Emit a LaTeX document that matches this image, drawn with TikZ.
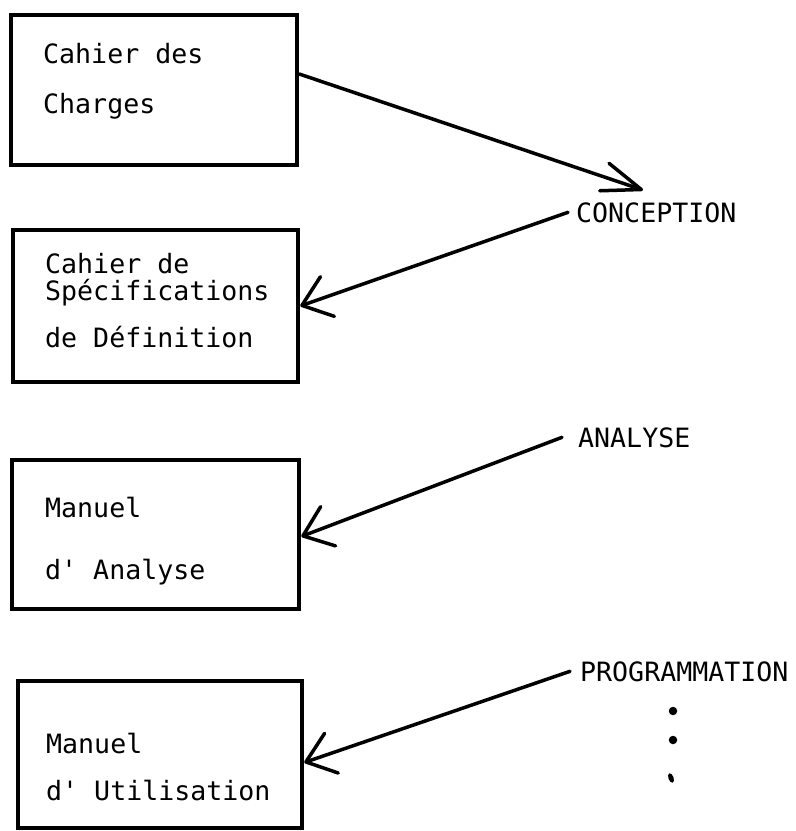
\documentclass[tikz,border=0pt]{standalone}
\usepackage{fontspec}
\newfontfamily\typewriter{DejaVu Sans Mono}
\usetikzlibrary{arrows.meta}

\begin{document}
\begin{tikzpicture}[x=1pt, y=-1pt,
  docbox/.style={draw, rectangle, line width=4.5pt, inner sep=0pt},
  doctext/.style={anchor=base west, inner sep=0pt,
    font=\typewriter\fontsize{26.6}{32}\selectfont},
  link/.style={line width=3.5pt, line cap=round,
    -{Straight Barb[length=27pt,width=42pt,round]}},
  dotmark/.style={circle, fill, inner sep=0pt, minimum size=8.5pt},
]
\useasboundingbox (0,0) rectangle (796,831);

% documents
\node[docbox, minimum width=286pt, minimum height=150pt] (box1) at (154,90) {};
\node[docbox, minimum width=285pt, minimum height=152pt] (box2) at (155.5,306) {};
\node[docbox, minimum width=287pt, minimum height=149pt] (box3) at (155.5,534.5) {};
\node[docbox, minimum width=284pt, minimum height=147pt] (box4) at (160,754.5) {};

% document titles
\node[doctext] (t1a) at (43,63) {Cahier des};
\node[doctext] (t1b) at (43,113) {Charges};
\node[doctext] (t2a) at (45,273) {Cahier de};
\node[doctext] (t2b) at (45,300) {Spécifications};
\node[doctext] (t2c) at (45,347) {de Définition};
\node[doctext] (t3a) at (45,517) {Manuel};
\node[doctext] (t3b) at (45,579) {d' Analyse};
\node[doctext] (t4a) at (46,753) {Manuel};
\node[doctext] (t4b) at (46,800) {d' Utilisation};

% phases
\node[doctext] (conc) at (576,222) {CONCEPTION};
\node[doctext] (ana) at (578,447) {ANALYSE};
\node[doctext] (prog) at (580,681) {PROGRAMMATION};

% vertical ellipsis under the last phase
\node[dotmark] (d1) at (673,711) {};
\node[dotmark] (d2) at (673,740) {};
\fill[rotate around={20:(671,778)}] (671,778) ellipse (2.6pt and 5pt);

% flow
\draw[link, -{Straight Barb[length=39pt,width=29pt,round]}]
  ([yshift=16pt]box1.east) -- ([xshift=67pt,yshift=12pt]conc.north west);
\draw[link] ([xshift=-8pt]conc.west) -- (box2.east);
\draw[link] ([xshift=-16pt]ana.west) -- ([yshift=-2pt]box3.east);
\draw[link] ([xshift=-10pt]prog.west) -- ([yshift=-8pt]box4.east);
\end{tikzpicture}
\end{document}
